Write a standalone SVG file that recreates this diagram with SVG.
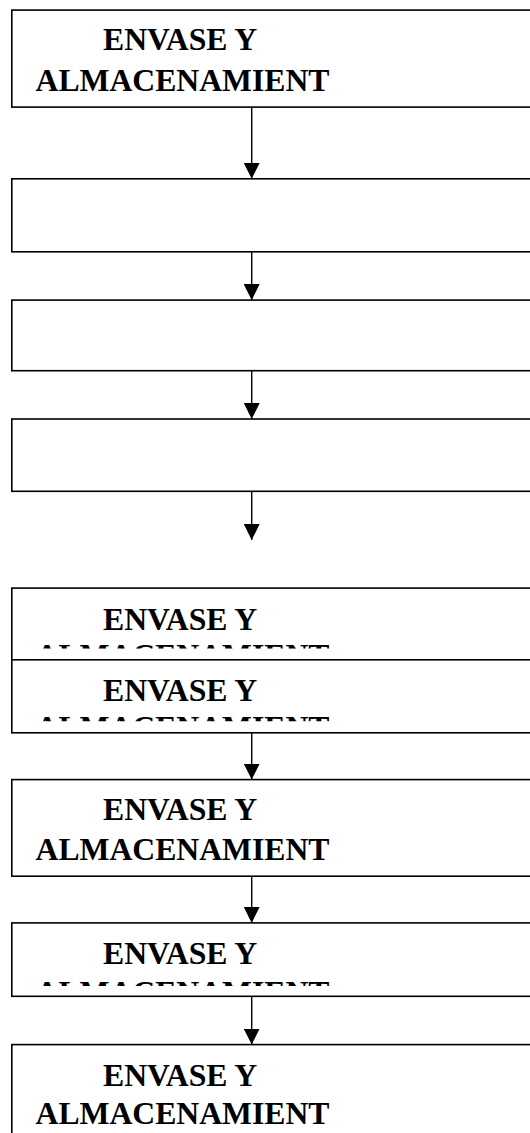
<svg xmlns="http://www.w3.org/2000/svg" width="530" height="1133" viewBox="0 0 530 1133">
  <style>
    .box { fill: #ffffff; stroke: #000000; stroke-width: 1.6; }
    .lbl { font-family: "Liberation Serif", "Times New Roman", serif; font-weight: bold; font-size: 31.7px; fill: #000000; }
    .edge { stroke: #000000; stroke-width: 1.4; fill: none; }
  </style>
  <defs>
    <marker id="arrow" viewBox="0 0 16 16" refX="16" refY="8" markerWidth="16" markerHeight="16" markerUnits="userSpaceOnUse" orient="auto">
      <path d="M0,0 L16,8 L0,16 Z" fill="#000000"/>
    </marker>
    <clipPath id="clip5"><rect x="12" y="588" width="530" height="60.5"/></clipPath>
    <clipPath id="clip6"><rect x="12" y="660" width="530" height="61.3"/></clipPath>
    <clipPath id="clip8"><rect x="12" y="923" width="530" height="63"/></clipPath>
  </defs>

  <!-- connectors -->
  <g id="connectors">
    <line class="edge" x1="251.7" y1="107" x2="251.7" y2="178.8" marker-end="url(#arrow)"/>
    <line class="edge" x1="251.7" y1="251.8" x2="251.7" y2="300.1" marker-end="url(#arrow)"/>
    <line class="edge" x1="251.7" y1="370.7" x2="251.7" y2="419" marker-end="url(#arrow)"/>
    <line class="edge" x1="251.7" y1="491.3" x2="251.7" y2="540" marker-end="url(#arrow)"/>
    <line class="edge" x1="251.7" y1="732.8" x2="251.7" y2="779.6" marker-end="url(#arrow)"/>
    <line class="edge" x1="251.7" y1="876.2" x2="251.7" y2="922.9" marker-end="url(#arrow)"/>
    <line class="edge" x1="251.7" y1="996.3" x2="251.7" y2="1044.6" marker-end="url(#arrow)"/>
  </g>

  <!-- step boxes -->
  <g id="node1">
    <rect class="box" x="11.8" y="10.1" width="540" height="97"/>
    <text class="lbl" x="103" y="50">ENVASE Y</text>
    <text class="lbl" x="35.5" y="90.6">ALMACENAMIENT</text>
  </g>
  <g id="node2">
    <rect class="box" x="11.8" y="178.8" width="540" height="73"/>
  </g>
  <g id="node3">
    <rect class="box" x="11.8" y="300.1" width="540" height="70.6"/>
  </g>
  <g id="node4">
    <rect class="box" x="11.8" y="419" width="540" height="72.3"/>
  </g>
  <g id="node5">
    <rect class="box" x="11.8" y="588.1" width="540" height="71.7"/>
    <g clip-path="url(#clip5)">
      <text class="lbl" x="103" y="629.6">ENVASE Y</text>
      <text class="lbl" x="35.5" y="665.5">ALMACENAMIENT</text>
    </g>
  </g>
  <g id="node6">
    <rect class="box" x="11.8" y="659.8" width="540" height="73"/>
    <g clip-path="url(#clip6)">
      <text class="lbl" x="103" y="701">ENVASE Y</text>
      <text class="lbl" x="35.5" y="738.3">ALMACENAMIENT</text>
    </g>
  </g>
  <g id="node7">
    <rect class="box" x="11.8" y="779.6" width="540" height="96.6"/>
    <text class="lbl" x="103" y="820">ENVASE Y</text>
    <text class="lbl" x="35.5" y="860">ALMACENAMIENT</text>
  </g>
  <g id="node8">
    <rect class="box" x="11.8" y="922.9" width="540" height="73.4"/>
    <g clip-path="url(#clip8)">
      <text class="lbl" x="103" y="963.5">ENVASE Y</text>
      <text class="lbl" x="35.5" y="1002.5">ALMACENAMIENT</text>
    </g>
  </g>
  <g id="node9">
    <rect class="box" x="11.8" y="1044.6" width="540" height="120"/>
    <text class="lbl" x="103" y="1085.5">ENVASE Y</text>
    <text class="lbl" x="35.5" y="1124">ALMACENAMIENT</text>
  </g>
</svg>
